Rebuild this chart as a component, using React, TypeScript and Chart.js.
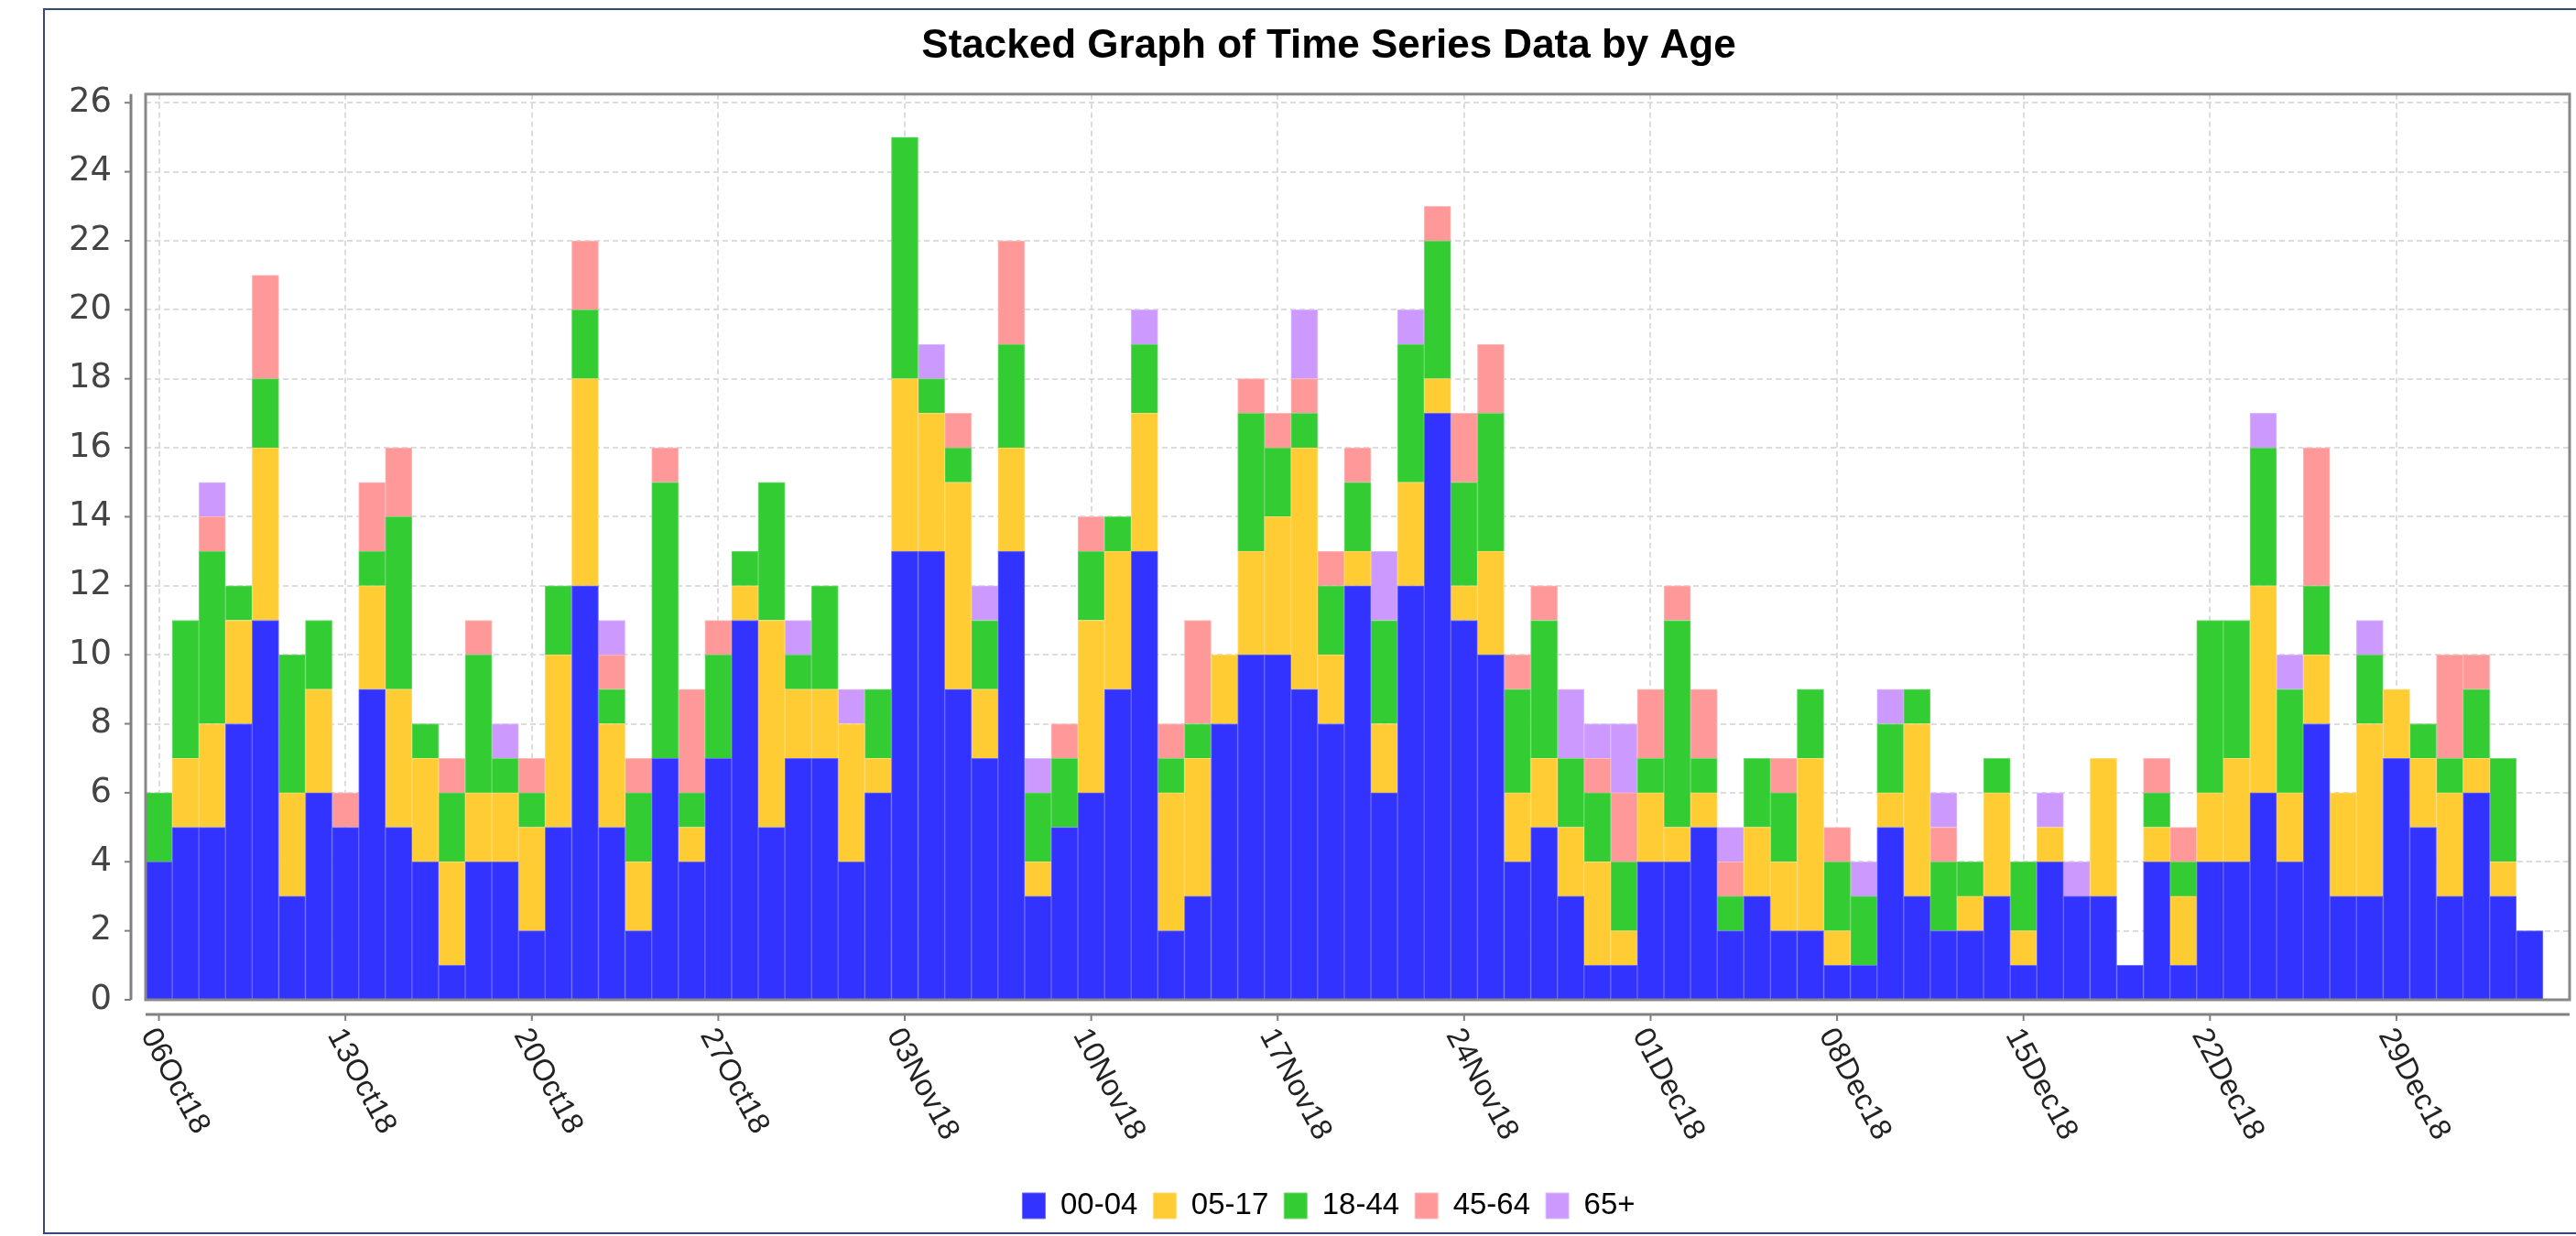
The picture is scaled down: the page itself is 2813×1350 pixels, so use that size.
import React, { useEffect, useRef } from 'react';
import { Chart, registerables } from 'chart.js';

Chart.register(...registerables);

// ---- data ----
const categories = [
  '06Oct18','07Oct18','08Oct18','09Oct18','10Oct18','11Oct18','12Oct18','13Oct18','14Oct18','15Oct18',
  '16Oct18','17Oct18','18Oct18','19Oct18','20Oct18','21Oct18','22Oct18','23Oct18','24Oct18','25Oct18',
  '26Oct18','27Oct18','28Oct18','29Oct18','30Oct18','31Oct18','01Nov18','02Nov18','03Nov18','04Nov18',
  '05Nov18','06Nov18','07Nov18','08Nov18','09Nov18','10Nov18','11Nov18','12Nov18','13Nov18','14Nov18',
  '15Nov18','16Nov18','17Nov18','18Nov18','19Nov18','20Nov18','21Nov18','22Nov18','23Nov18','24Nov18',
  '25Nov18','26Nov18','27Nov18','28Nov18','29Nov18','30Nov18','01Dec18','02Dec18','03Dec18','04Dec18',
  '05Dec18','06Dec18','07Dec18','08Dec18','09Dec18','10Dec18','11Dec18','12Dec18','13Dec18','14Dec18',
  '15Dec18','16Dec18','17Dec18','18Dec18','19Dec18','20Dec18','21Dec18','22Dec18','23Dec18','24Dec18',
  '25Dec18','26Dec18','27Dec18','28Dec18','29Dec18','30Dec18','31Dec18','01Jan19','02Jan19','03Jan19',
];

const tickLabels = [
  '06Oct18','13Oct18','20Oct18','27Oct18','03Nov18','10Nov18','17Nov18',
  '24Nov18','01Dec18','08Dec18','15Dec18','22Dec18','29Dec18',
];

const seriesNames = ['00-04', '05-17', '18-44', '45-64', '65+'];

const age00_04 = [
  4,5,5,8,11,3,6,5,9,5, 4,1,4,4,2,5,12,5,2,7, 4,7,11,5,7,7,4,6,13,13,
  9,7,13,3,5,6,9,13,2,3, 8,10,10,9,8,12,6,12,17,11, 10,4,5,3,1,1,4,4,5,2,
  3,2,2,1,1,5,3,2,2,3, 1,4,3,3,1,4,1,4,4,6, 4,8,3,3,7,5,3,6,3,2,
];
const age05_17 = [
  0,2,3,3,5,3,3,0,3,4, 3,3,2,2,3,5,6,3,2,0, 1,0,1,6,2,2,4,1,5,4,
  6,2,3,1,0,5,4,4,4,4, 2,3,4,7,2,1,2,3,1,1, 3,2,2,2,3,1,2,1,1,0,
  2,2,5,1,0,1,5,0,1,3, 1,1,0,4,0,1,2,2,3,6, 2,2,3,5,2,2,3,1,1,0,
];
const age18_44 = [
  2,4,5,1,2,4,2,0,1,5, 1,2,4,1,1,2,2,1,2,8, 1,3,1,4,1,3,0,2,7,1,
  1,2,3,2,2,2,1,2,1,1, 0,4,2,1,2,2,3,4,4,3, 4,3,4,2,2,2,1,6,1,1,
  2,2,2,2,2,2,1,2,1,1, 2,0,0,0,0,1,1,5,4,4, 3,2,0,2,0,1,1,2,3,0,
];
const age45_64 = [
  0,0,1,0,3,0,0,1,2,2, 0,1,1,0,1,0,2,1,1,1, 3,1,0,0,0,0,0,0,0,0,
  1,0,3,0,1,1,0,0,1,3, 0,1,1,1,1,1,0,0,1,2, 2,1,1,0,1,2,2,1,2,1,
  0,1,0,1,0,0,0,1,0,0, 0,0,0,0,0,1,1,0,0,0, 0,4,0,0,0,0,3,1,0,0,
];
const age65plus = [
  0,0,1,0,0,0,0,0,0,0, 0,0,0,1,0,0,0,1,0,0, 0,0,0,0,1,0,1,0,0,1,
  0,1,0,1,0,0,0,1,0,0, 0,0,0,2,0,0,2,1,0,0, 0,0,0,2,1,2,0,0,0,1,
  0,0,0,0,1,1,0,1,0,0, 0,1,1,0,0,0,0,0,0,1, 1,0,0,1,0,0,0,0,0,0,
];

const seriesValues = [age00_04, age05_17, age18_44, age45_64, age65plus];
const fillColors = ['#3333ff', '#ffcc33', '#33cc33', '#ff9999', '#cc99ff'];
const edgeColors = ['#6b6bff', '#ffdc75', '#6fdb6f', '#ffbaba', '#dcbaff'];

const TITLE = 'Stacked Graph of Time Series Data by Age';

const decorPlugin = {
  id: 'jfreeDecor',
  beforeDraw(chart: any) {
    const { ctx, width, height } = chart;
    ctx.save();
    ctx.fillStyle = '#ffffff';
    ctx.fillRect(0, 0, width, height);
    ctx.strokeStyle = '#34497a';
    ctx.lineWidth = 2;
    ctx.strokeRect(48, 10, 2806, 1337);
    ctx.restore();
  },
  afterDatasetsDraw(chart: any) {
    const { ctx, chartArea: a } = chart;
    ctx.save();
    ctx.strokeStyle = '#888888';
    ctx.lineWidth = 3;
    ctx.strokeRect(a.left, a.top, a.right - a.left, a.bottom - a.top);
    ctx.restore();
  },
  afterDraw(chart: any) {
    const { ctx, chartArea: a, scales } = chart;
    const xs = scales.x;
    const ys = scales.y;
    ctx.save();
    ctx.strokeStyle = '#808080';
    // y axis line, offset from the plot
    const ax = a.left - 16;
    ctx.lineWidth = 3;
    ctx.beginPath();
    ctx.moveTo(ax, a.top);
    ctx.lineTo(ax, a.bottom);
    ctx.stroke();
    ctx.lineWidth = 2;
    ctx.fillStyle = '#444444';
    ctx.font = '37px "DejaVu Sans"';
    ctx.textAlign = 'right';
    ctx.textBaseline = 'middle';
    ys.ticks.forEach((t: any) => {
      const y = ys.getPixelForValue(t.value);
      ctx.beginPath();
      ctx.moveTo(ax - 7, y);
      ctx.lineTo(ax, y);
      ctx.stroke();
      ctx.fillText(t.label != null ? String(t.label) : String(t.value), a.left - 37, y);
    });
    // x axis line, offset from the plot
    const ay = a.bottom + 16;
    ctx.lineWidth = 3;
    ctx.beginPath();
    ctx.moveTo(a.left, ay);
    ctx.lineTo(a.right, ay);
    ctx.stroke();
    ctx.lineWidth = 2;
    ctx.fillStyle = '#222222';
    ctx.font = '33px "Liberation Sans"';
    ctx.textAlign = 'left';
    ctx.textBaseline = 'middle';
    tickLabels.forEach((lbl) => {
      const x = xs.getPixelForValue(categories.indexOf(lbl));
      ctx.beginPath();
      ctx.moveTo(x, ay);
      ctx.lineTo(x, ay + 7);
      ctx.stroke();
      ctx.save();
      ctx.translate(x - 12, ay + 18);
      ctx.rotate((62 * Math.PI) / 180);
      ctx.fillText(lbl, 0, 0);
      ctx.restore();
    });
    ctx.restore();
  },
};

export default function App() {
  const canvasRef = useRef<HTMLCanvasElement>(null);

  useEffect(() => {
    if (!canvasRef.current) return;
    const datasets = seriesNames.map((name, i) => ({
      label: name,
      data: seriesValues[i].map((v, idx) => ({ x: idx, y: v })),
      backgroundColor: fillColors[i],
      borderColor: edgeColors[i],
      borderWidth: 1,
      barPercentage: 1,
      categoryPercentage: 1,
    }));

    const chart = new Chart(canvasRef.current, {
      type: 'bar',
      data: { datasets },
      plugins: [decorPlugin],
      options: {
        animation: false,
        responsive: true,
        maintainAspectRatio: false,
        devicePixelRatio: 1,
        events: [],
        layout: { padding: { left: 96, right: 54, top: 0, bottom: 6.5 } },
        plugins: {
          title: {
            display: true,
            text: TITLE,
            color: '#000000',
            font: { family: '"Liberation Sans"', size: 44, weight: 'bold' },
            padding: { top: 24, bottom: 26 },
          },
          legend: {
            position: 'bottom',
            labels: {
              boxWidth: 25,
              boxHeight: 28,
              padding: 17,
              color: '#000000',
              font: { family: '"Liberation Sans"', size: 33 },
            },
          },
          tooltip: { enabled: false },
        },
        scales: {
          x: {
            type: 'linear',
            stacked: true,
            offset: false,
            bounds: 'data',
            min: -0.5,
            max: 90.5,
            afterBuildTicks: (s: any) => {
              s.ticks = tickLabels.map((l) => ({ value: categories.indexOf(l) }));
            },
            afterFit: (s: any) => {
              s.height = 191.5;
            },
            ticks: { display: false },
            grid: { color: '#dcdcdc', lineWidth: 2, drawTicks: false, offset: false },
            border: { display: false, dash: [6, 4] },
          },
          y: {
            stacked: true,
            bounds: 'data',
            min: 0,
            max: 26.25,
            afterFit: (s: any) => {
              s.width = 63;
            },
            ticks: {
              display: false,
              stepSize: 2,
              includeBounds: false,
            },
            grid: { color: '#dcdcdc', lineWidth: 2, drawTicks: false },
            border: { display: false, dash: [6, 4] },
          },
        },
      } as any,
    });
    return () => chart.destroy();
  }, []);

  return (
    <div
      style={{
        position: 'absolute',
        left: 0,
        top: 0,
        width: 2813,
        height: 1350,
        overflow: 'hidden',
        background: '#ffffff',
      }}
    >
      <div style={{ position: 'relative', width: 2860, height: 1350 }}>
        <canvas ref={canvasRef} />
      </div>
    </div>
  );
}
